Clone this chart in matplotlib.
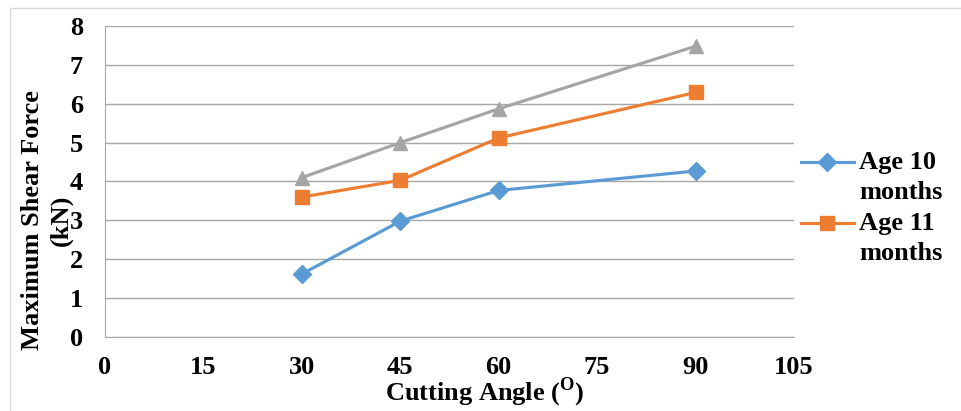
import matplotlib
matplotlib.use("Agg")
import matplotlib.pyplot as plt
from matplotlib.patches import Rectangle
from matplotlib.legend_handler import HandlerLine2D

# dane
katy = [30, 45, 60, 90]
wiek_10 = [1.62, 2.98, 3.77, 4.27]
wiek_11 = [3.60, 4.03, 5.12, 6.29]
wiek_12 = [4.10, 5.00, 5.87, 7.48]
x_ticks = [0, 15, 30, 45, 60, 75, 90, 105]
y_ticks = [0, 1, 2, 3, 4, 5, 6, 7, 8]

plt.rcParams['font.family'] = ['Liberation Serif', 'DejaVu Serif']
plt.rcParams['font.weight'] = 'bold'
plt.rcParams['axes.labelweight'] = 'bold'
plt.rcParams['font.size'] = 19
plt.rcParams['mathtext.fontset'] = 'custom'
plt.rcParams['mathtext.rm'] = 'Liberation Serif:bold'
plt.rcParams['mathtext.bf'] = 'Liberation Serif:bold'


class UchwytGora(HandlerLine2D):
    """Uchwyt legendy ustawiony na wysokosci pierwszej linii opisu."""
    def create_artists(self, legend, orig_handle, xdescent, ydescent,
                       width, height, fontsize, trans):
        artysci = super().create_artists(legend, orig_handle, xdescent, ydescent,
                                         width, height, fontsize, trans)
        for a in artysci:
            a.set_ydata([y + 0.6 * fontsize for y in a.get_ydata()])
        return artysci


fig = plt.figure(figsize=(9.62, 4.11), dpi=100)
ax = fig.add_axes([105 / 962, 1 - 337 / 411, (794 - 105) / 962, (337 - 26) / 411])

# ramka wokol calego wykresu
fig.patches.append(Rectangle((10 / 962, -0.01), 1.0, 1 - 8 / 411 + 0.01,
                             transform=fig.transFigure, fill=False,
                             edgecolor="#D9D9D9", linewidth=1.0))

l1, = ax.plot(katy, wiek_10, color="#5B9BD5", marker="D", markersize=9, linewidth=2.25,
              label="Age 10\nmonths")
l2, = ax.plot(katy, wiek_11, color="#ED7D31", marker="s", markersize=10, linewidth=2.25,
              label="Age 11\nmonths")
l3, = ax.plot(katy, wiek_12, color="#A5A5A5", marker="^", markersize=10, linewidth=2.25,
              label="Age 12\nmonths")

ax.set_xlim(0, 105)
ax.set_ylim(0, 8)
ax.set_xticks(x_ticks)
ax.set_yticks(y_ticks)
ax.grid(axis='y', color="#A6A6A6", linewidth=1.0)
ax.set_axisbelow(True)
for s in ["top", "right"]:
    ax.spines[s].set_visible(False)
for s in ["left", "bottom"]:
    ax.spines[s].set_color("#A6A6A6")
ax.tick_params(length=0)
ax.tick_params(axis='y', pad=16)
ax.tick_params(axis='x', pad=14)

ax.set_xlabel("Cutting Angle ($^{\\mathrm{O}}$)", labelpad=-3, x=(485 - 105) / 689)
fig.text(47 / 962, 1 - 220 / 411, "Maximum Shear Force\n(kN)", rotation=90,
         ha="center", va="center", multialignment="center", linespacing=1.3)

leg = fig.legend(handles=[l1, l2], loc="upper left", bbox_to_anchor=(801 / 962, 1 - 151 / 411),
                 frameon=False, handlelength=2.0, handletextpad=0.2, labelspacing=0.3,
                 borderaxespad=0, borderpad=0,
                 handler_map={l1: UchwytGora(), l2: UchwytGora()})
for t in leg.get_texts():
    t.set_linespacing(1.4)

fig.savefig("out.png", dpi=100)
